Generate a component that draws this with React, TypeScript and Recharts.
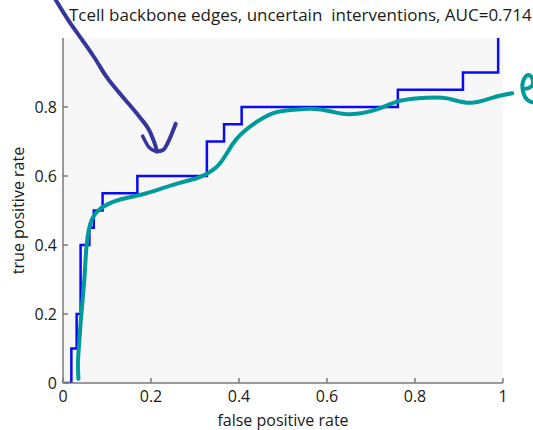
import React from "react";
import { LineChart, Line, XAxis, YAxis, CartesianGrid } from "recharts";

// ROC step curve (false positive rate, true positive rate)
const rocFpr = [0, 0.019, 0.031, 0.04, 0.06, 0.07, 0.09, 0.169, 0.327, 0.366, 0.406, 0.761, 0.909, 0.989];
const rocTpr = [0, 0.1, 0.2, 0.4, 0.45, 0.5, 0.55, 0.6, 0.7, 0.75, 0.8, 0.85, 0.9, 1.0];

// hand-drawn teal sketch over the curve
const sketchX = [0.035, 0.034, 0.037, 0.041, 0.046, 0.05, 0.053, 0.058, 0.066, 0.08, 0.1, 0.13, 0.175, 0.22, 0.265, 0.3, 0.326, 0.357, 0.387, 0.425, 0.478, 0.523, 0.565, 0.61, 0.653, 0.713, 0.766, 0.827, 0.873, 0.926, 0.979, 1.021];
const sketchY = [0.012, 0.06, 0.12, 0.19, 0.26, 0.33, 0.39, 0.44, 0.475, 0.5, 0.517, 0.532, 0.545, 0.562, 0.58, 0.592, 0.606, 0.637, 0.695, 0.743, 0.782, 0.792, 0.795, 0.787, 0.779, 0.793, 0.818, 0.827, 0.825, 0.812, 0.828, 0.84];

// hand-drawn teal curl at the right edge
const curlX = [1.047, 1.058, 1.067, 1.067, 1.058, 1.049, 1.044, 1.047, 1.056, 1.071];
const curlY = [0.852, 0.855, 0.864, 0.881, 0.893, 0.884, 0.864, 0.838, 0.82, 0.812];

// hand-drawn navy arrow
const arrowX = [-0.022, 0.015, 0.044, 0.072, 0.099, 0.136, 0.174, 0.197, 0.208, 0.215, 0.227, 0.238, 0.247, 0.256];
const arrowY = [1.122, 1.046, 0.994, 0.942, 0.887, 0.829, 0.771, 0.73, 0.696, 0.672, 0.675, 0.696, 0.722, 0.751];
const arrowTipX = [0.181, 0.195, 0.213];
const arrowTipY = [0.716, 0.684, 0.67];

const xTicks = [0, 0.2, 0.4, 0.6, 0.8, 1];
const yTicks = [0, 0.2, 0.4, 0.6, 0.8];
const innerTicks = [0.2, 0.4, 0.6, 0.8];

const toPoints = (xs: number[], ys: number[]) => xs.map((x, i) => ({ x, y: ys[i] }));

const rocData = toPoints(rocFpr, rocTpr);
const sketchData = toPoints(sketchX, sketchY);
const curlData = toPoints(curlX, curlY);
const arrowData = toPoints(arrowX, arrowY);
const arrowTipData = toPoints(arrowTipX, arrowTipY);

const FONT = '"Open Sans", "DejaVu Sans", sans-serif';
const AXIS = "#7a7a7a";
const TEXT = "#1a1a1a";
const tickStyle = { fontSize: 16, fill: TEXT, fontFamily: FONT };

export default function App() {
  return (
    <div style={{ position: "absolute", left: 0, top: 0, width: 533, height: 430, background: "#fff", overflow: "hidden" }}>
      <style>{".hand-stroke, .hand-stroke * { clip-path: none !important; }"}</style>
      <div
        style={{
          position: "absolute",
          left: 69,
          top: 3,
          fontFamily: FONT,
          fontSize: 17,
          color: TEXT,
          whiteSpace: "pre",
        }}
      >
        {"Tcell backbone edges, uncertain  interventions, AUC=0.714"}
      </div>
      <div style={{ position: "absolute", left: 0, top: 0 }}>
        <LineChart width={533} height={430} margin={{ top: 38, right: 30, bottom: 0, left: 0 }} style={{ fontFamily: FONT }}>
          <CartesianGrid fill="#f7f7f7" horizontal={false} vertical={false} />
          <XAxis
            dataKey="x"
            type="number"
            domain={[0, 1]}
            allowDataOverflow
            ticks={xTicks}
            height={47}
            tickSize={-5}
            tickMargin={13}
            stroke={AXIS}
            strokeWidth={1.5}
            tick={tickStyle}
            label={{ value: "false positive rate", position: "insideBottom", offset: 4, fill: TEXT, fontSize: 16, fontFamily: FONT }}
          />
          <XAxis
            xAxisId="top"
            orientation="top"
            type="number"
            domain={[0, 1]}
            allowDataOverflow
            ticks={innerTicks}
            height={0}
            tickSize={-5}
            tickFormatter={() => ""}
            stroke={AXIS}
            strokeWidth={1.5}
          />
          <YAxis
            type="number"
            domain={[0, 1]}
            allowDataOverflow
            ticks={yTicks}
            width={63}
            tickSize={-5}
            tickMargin={11}
            stroke={AXIS}
            strokeWidth={1.5}
            tick={tickStyle}
            label={{
              value: "true positive rate",
              angle: -90,
              position: "insideLeft",
              offset: 18,
              fill: TEXT,
              fontSize: 16,
              fontFamily: FONT,
              style: { textAnchor: "middle" },
            }}
          />
          <YAxis
            yAxisId="right"
            orientation="right"
            type="number"
            domain={[0, 1]}
            allowDataOverflow
            ticks={innerTicks}
            width={0}
            tickSize={-5}
            tickFormatter={() => ""}
            stroke={AXIS}
            strokeWidth={1.5}
          />
          <Line
            data={rocData}
            dataKey="y"
            type="stepAfter"
            stroke="#0a0af5"
            strokeWidth={2.5}
            dot={false}
            activeDot={false}
            isAnimationActive={false}
          />
          <Line
            className="hand-stroke"
            data={sketchData}
            dataKey="y"
            type="natural"
            stroke="#019a9a"
            strokeWidth={4}
            strokeLinecap="round"
            strokeLinejoin="round"
            dot={false}
            activeDot={false}
            isAnimationActive={false}
          />
          <Line
            className="hand-stroke"
            data={curlData}
            dataKey="y"
            type="natural"
            stroke="#019a9a"
            strokeWidth={4}
            strokeLinecap="round"
            strokeLinejoin="round"
            dot={false}
            activeDot={false}
            isAnimationActive={false}
          />
          <Line
            className="hand-stroke"
            data={arrowData}
            dataKey="y"
            type="monotone"
            stroke="#35359a"
            strokeWidth={4}
            strokeLinecap="round"
            strokeLinejoin="round"
            dot={false}
            activeDot={false}
            isAnimationActive={false}
          />
          <Line
            className="hand-stroke"
            data={arrowTipData}
            dataKey="y"
            type="monotone"
            stroke="#35359a"
            strokeWidth={3.5}
            strokeLinecap="round"
            dot={false}
            activeDot={false}
            isAnimationActive={false}
          />
        </LineChart>
      </div>
    </div>
  );
}
